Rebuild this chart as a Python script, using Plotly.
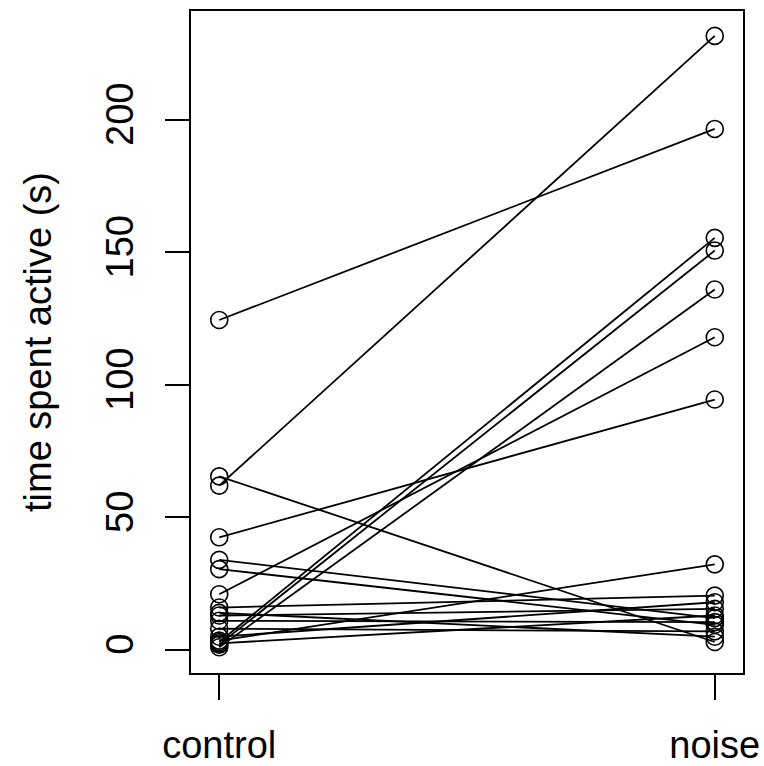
import plotly.graph_objects as go

# Paired observations: time spent active (s) under control vs noise
groups = ["control", "noise"]
control = [124.5, 62, 65.5, 42.5, 34, 30.5, 21, 3, 2, 1, 3.5, 16, 13, 11, 5, 2.5, 8, 14]
noise = [196.6, 231.7, 3, 94.5, 12, 9.5, 118, 155.5, 150.7, 136, 32.3, 20.5, 15.5, 10.5, 18, 13, 7, 5]
y_ticks = [0, 50, 100, 150, 200]

font_family = "Liberation Sans, Arial, sans-serif"

fig = go.Figure()

# one line per subject, control -> noise
for c, n in zip(control, noise):
    fig.add_trace(go.Scatter(
        x=[1, 2], y=[c, n],
        mode="lines+markers",
        line=dict(color="black", width=1.8),
        marker=dict(symbol="circle-open", size=17, color="black",
                    line=dict(width=1.6, color="black")),
        showlegend=False, hoverinfo="skip"))

fig.update_layout(
    width=764, height=766,
    margin=dict(l=191, r=21, t=11, b=93),
    plot_bgcolor="white", paper_bgcolor="white",
    font=dict(family=font_family, size=38, color="black"),
)

fig.update_xaxes(
    range=[0.943, 2.057],
    tickmode="array", tickvals=[1, 2], ticktext=groups,
    ticks="outside", ticklen=25, tickwidth=1.5, tickcolor="black",
    showline=True, linecolor="black", linewidth=1.5, mirror=True,
    showgrid=False, zeroline=False, automargin=False,
    tickfont=dict(size=38), ticklabelstandoff=13,
)

fig.update_yaxes(
    range=[-8.7, 241.1],
    tickmode="array", tickvals=y_ticks, ticktext=[str(v) for v in y_ticks],
    ticks="outside", ticklen=24, tickwidth=1.5, tickcolor="black",
    showline=True, linecolor="black", linewidth=1.5, mirror=True,
    showgrid=False, zeroline=False, automargin=False,
    tickangle=-90, tickfont=dict(size=38), ticklabelstandoff=17,
    title=dict(text="time spent active (s)", font=dict(size=38), standoff=36),
)

# drop the default 8px page margin so the figure fills the window exactly
fig.write_html("out.html", config={"displayModeBar": False},
               post_script="document.body.style.margin = '0';")
